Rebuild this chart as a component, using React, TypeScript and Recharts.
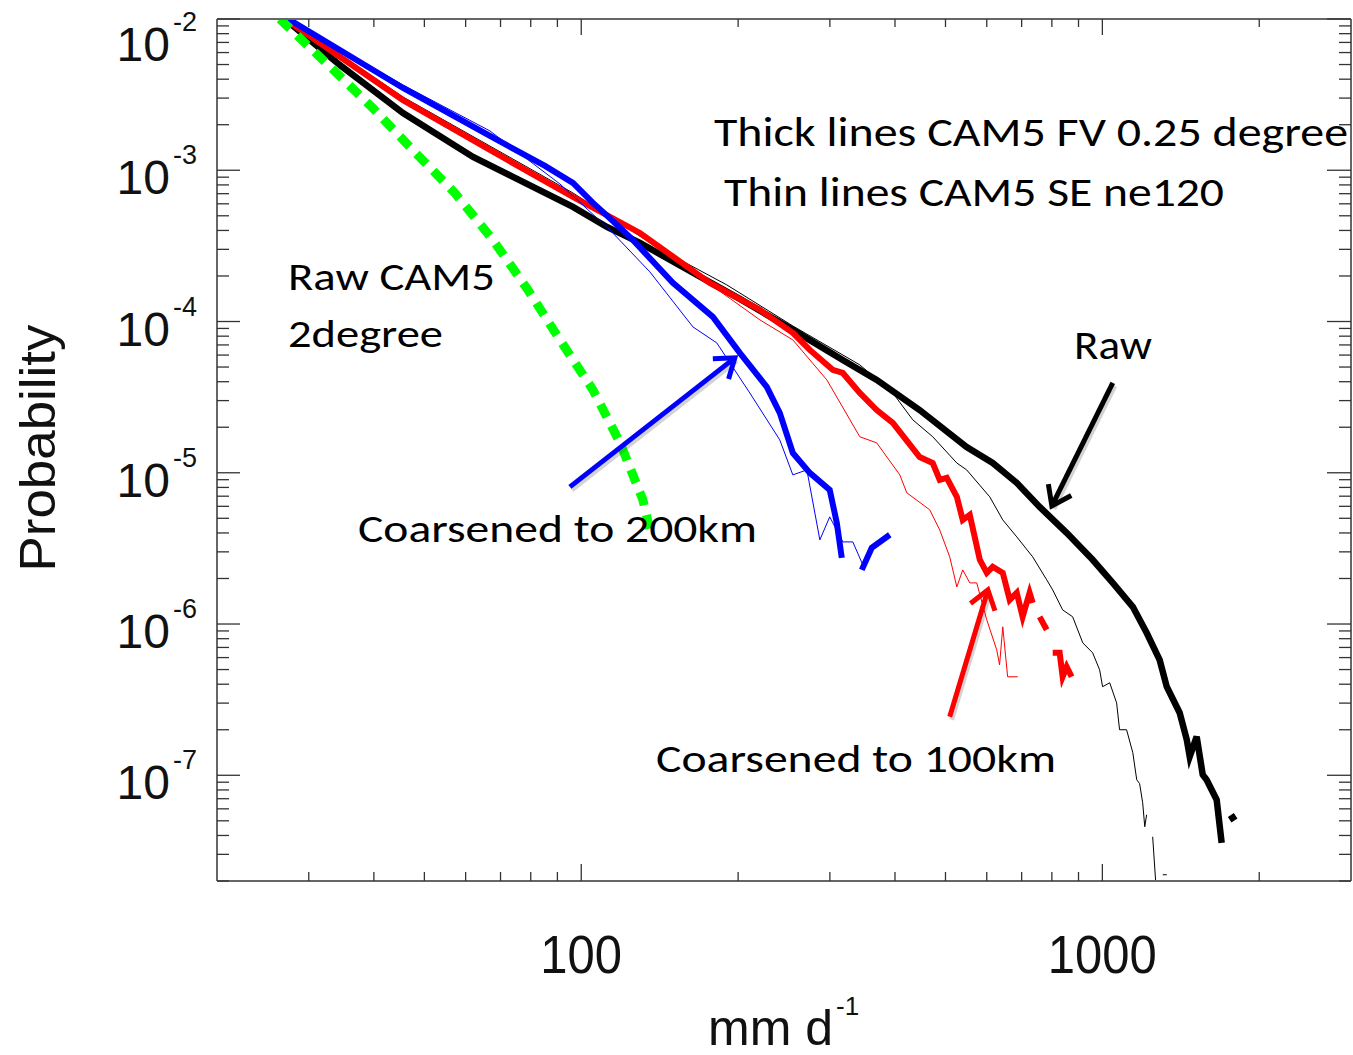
import React from 'react';
import { ComposedChart, Line, XAxis, YAxis, ReferenceLine } from 'recharts';

// ---------- data (x in mm/d, y = probability) ----------
const blackThickX = [27.0, 34.4, 45.5, 62.0, 77.3, 96.4, 112, 129.6, 163.8, 201.5, 254.7, 317.6, 369, 446, 549, 616, 685, 758, 854, 958, 1047, 1144, 1216, 1288, 1329, 1407, 1452, 1471, 1517, 1558, 1585, 1657, 1694, 1725, 1755, 1802];
const blackThickY = [1.0e-2, 4.97e-3, 2.39e-3, 1.224e-3, 8.37e-4, 5.72e-4, 4.22e-4, 3.31e-4, 2.10e-4, 1.41e-4, 8.80e-5, 5.57e-5, 4.11e-5, 2.60e-5, 1.48e-5, 1.16e-5, 8.58e-6, 5.95e-6, 4.01e-6, 2.66e-6, 1.87e-6, 1.30e-6, 8.75e-7, 5.80e-7, 3.85e-7, 2.59e-7, 1.72e-7, 1.33e-7, 1.80e-7, 1.008e-7, 9.34e-8, 6.89e-8, 3.58e-8, null, 5.08e-8, 5.40e-8];

const blackThinX = [27.2, 45.5, 96.4, 141.5, 190.3, 254.7, 342.4, 396.2, 432.6, 472.6, 525.7, 549, 608, 644, 685, 735, 782, 803, 839, 877, 917, 958, 988, 1001, 1033, 1065, 1079, 1113, 1144, 1164, 1179, 1195, 1206, 1216, 1232, 1249, 1266, 1290, 1306, 1329];
const blackThinY = [1.0e-2, 3.05e-3, 7.08e-4, 3.02e-4, 1.745e-4, 9.35e-5, 5.17e-5, 3.37e-5, 2.24e-5, 1.73e-5, 1.16e-5, 1.045e-5, 6.93e-6, 4.88e-6, 3.77e-6, 2.78e-6, 1.96e-6, 1.68e-6, 1.24e-6, 1.116e-6, 7.51e-7, 6.45e-7, 4.98e-7, 3.85e-7, 4.09e-7, 3.01e-7, 2.0e-7, 2.0e-7, 1.41e-7, 9.34e-8, 8.8e-8, 6.58e-8, 4.57e-8, 5.48e-8, null, 3.92e-8, 1.95e-8, null, 2.2e-8, 2.2e-8];

const redThickX = [27.0, 45.5, 66.8, 96.4, 129.6, 176.5, 220.2, 254.7, 274.5, 303.8, 317.6, 342.4, 369, 396.2, 446, 472.6, 487.4, 502.8, 525.7, 539.6, 556.6, 581.8, 600, 616, 644, 664, 685, 703, 725, 735, 746, 758, 782, 792, 803, 828, 839, 854, 873];
const redThickY = [1.0e-2, 2.91e-3, 1.362e-3, 6.66e-4, 3.85e-4, 1.80e-4, 1.193e-4, 8.41e-5, 6.49e-5, 4.79e-5, 4.57e-5, 3.37e-5, 2.60e-5, 2.14e-5, 1.27e-5, 1.16e-5, 8.98e-6, 9.25e-6, 6.93e-6, 4.88e-6, 5.27e-6, 2.66e-6, 2.18e-6, 2.39e-6, 2.18e-6, 1.445e-6, 1.61e-6, 1.116e-6, 1.61e-6, 1.38e-6, null, 1.116e-6, 9.16e-7, null, 6.45e-7, 6.45e-7, 4.48e-7, 5.21e-7, 4.48e-7];

const redThinX = [27.0, 45.5, 96.4, 129.6, 168.9, 220.2, 254.7, 296, 342.4, 369, 408.6, 421.4, 466.4, 487.4, 509.4, 525.7, 539.6, 556.6, 574, 600, 627, 635, 644, 658, 688];
const redThinY = [1.0e-2, 3.0e-3, 6.87e-4, 3.91e-4, 1.97e-4, 1.025e-4, 7.56e-5, 4.11e-5, 1.73e-5, 1.576e-5, 9.68e-6, 7.37e-6, 5.69e-6, 4.19e-6, 2.78e-6, 1.76e-6, 2.28e-6, 1.87e-6, 1.87e-6, 1.066e-6, 6.75e-7, 5.37e-7, 9.58e-7, 4.48e-7, 4.48e-7];

const blueThickX = [27.4, 45.5, 66.8, 85.2, 96.4, 105.3, 115, 125.6, 149.9, 178.9, 201.5, 227.0, 240.4, 254.7, 274.5, 299.8, 309.3, 316.2, 330, 345.4, 361, 390.9];
const blueThickY = [1.0e-2, 3.50e-3, 1.685e-3, 1.068e-3, 8.24e-4, 6.08e-4, 4.62e-4, 3.46e-4, 1.80e-4, 1.073e-4, 6.20e-5, 3.70e-5, 2.49e-5, 1.353e-5, 9.98e-6, 7.71e-6, 4.67e-6, 2.74e-6, null, 2.28e-6, 3.19e-6, 3.89e-6];

const blueThinX = [27.4, 45.5, 66.8, 91.0, 113.5, 135.4, 163.8, 182, 210.6, 240.4, 254.7, 271, 287, 299.8, 317.6, 332, 347];
const blueThinY = [1.0e-2, 3.66e-3, 1.82e-3, 8.12e-4, 4.03e-4, 2.13e-4, 9.21e-5, 7.22e-5, 3.37e-5, 1.65e-5, 9.68e-6, 1.045e-5, 3.60e-6, 5.11e-6, 3.49e-6, 3.49e-6, 2.46e-6];

const greenX = [26.4, 32.7, 39.8, 47.5, 57.2, 67.7, 79.0, 91.0, 105.3, 118.7, 131.3, 135.4];
const greenY = [1.0e-2, 4.97e-3, 2.58e-3, 1.362e-3, 7.08e-4, 3.46e-4, 1.62e-4, 7.56e-5, 3.53e-5, 1.576e-5, 6.62e-6, 4.19e-6];

// arrows: [tailX, tailY, headX, headY]
const blueArrow = [95.1, 8.07e-6, 197.1, 5.75e-5];
const blackArrow = [1047, 3.93e-5, 800, 6.04e-6];
const redArrow = [509.4, 2.44e-7, 603, 1.68e-6];

// axes
const xDomain = [20, 3000];
const yDomain = [2e-8, 1e-2];
const xTicks = [30, 40, 50, 60, 70, 80, 90, 100, 200, 300, 400, 500, 600, 700, 800, 900, 1000, 2000];
const xMajorTicks = [100, 1000];
const yDecades = [-8, -7, -6, -5, -4, -3, -2];
const yMultipliers = [1, 2, 3, 4, 5, 6, 7, 8, 9];

const yTicks: number[] = [];
yDecades.forEach((d) => {
  yMultipliers.forEach((m) => {
    const v = Number((m * Math.pow(10, d)).toPrecision(6));
    if (v >= yDomain[0] * 0.999 && v <= yDomain[1] * 1.001) yTicks.push(v);
  });
});

const toData = (xs: number[], ys: (number | null)[]) => xs.map((x, i) => ({ x, y: ys[i] }));

const isDecade = (v: number) => Math.abs(Math.log10(v) - Math.round(Math.log10(v))) < 1e-6;

const TICK_COLOR = '#333';
const AXIS_FONT = '"Liberation Sans", Arial, Helvetica, sans-serif';
const NOTE_FONT = 'Carlito, Lato, "Open Sans", sans-serif';

const XTickBottom = (props: any) => {
  const { x, y, payload } = props;
  const v = payload.value;
  const major = xMajorTicks.includes(v);
  return (
    <g>
      <line x1={x} y1={y} x2={x} y2={y - (major ? 17 : 9)} stroke={TICK_COLOR} strokeWidth={1.3} />
      {major && (
        <text transform={`translate(${x},${y + 92}) scale(1,1.1)`} textAnchor="middle" fontFamily={AXIS_FONT} fontSize={49} fill="#111">
          {v}
        </text>
      )}
    </g>
  );
};

const XTickTop = (props: any) => {
  const { x, y, payload } = props;
  const major = xMajorTicks.includes(payload.value);
  return <line x1={x} y1={y} x2={x} y2={y + (major ? 16 : 8)} stroke={TICK_COLOR} strokeWidth={1.3} />;
};

const YTickLeft = (props: any) => {
  const { x, y, payload, index } = props;
  const v = payload.value;
  const major = isDecade(v);
  const exp = Math.round(Math.log10(v));
  const shift = index === yTicks.length - 1 ? 18 : 0;
  return (
    <g>
      <line x1={x} y1={y} x2={x + (major ? 23 : 12)} y2={y} stroke={TICK_COLOR} strokeWidth={1.3} />
      {major && exp > -8 && (
        <text x={x - 20} y={y + 24 + shift} textAnchor="end" fontFamily={AXIS_FONT} fontSize={48} fill="#111">
          10
          <tspan dx={3} dy={-30} fontSize={27}>{exp}</tspan>
        </text>
      )}
    </g>
  );
};

const YTickRight = (props: any) => {
  const { x, y, payload } = props;
  const major = isDecade(payload.value);
  return <line x1={x} y1={y} x2={x - (major ? 24 : 12)} y2={y} stroke={TICK_COLOR} strokeWidth={1.3} />;
};

const arrowShape = (color: string) => (props: any) => {
  const { x1, y1, x2, y2 } = props;
  const ang = Math.atan2(y2 - y1, x2 - x1);
  const L = 22;
  const a = 0.62;
  const wx1 = x2 - L * Math.cos(ang - a);
  const wy1 = y2 - L * Math.sin(ang - a);
  const wx2 = x2 - L * Math.cos(ang + a);
  const wy2 = y2 - L * Math.sin(ang + a);
  return (
    <g>
      <g opacity={0.25} transform="translate(2,3)">
        <line x1={x1} y1={y1} x2={x2} y2={y2} stroke="#555" strokeWidth={5} />
      </g>
      <line x1={x1} y1={y1} x2={x2} y2={y2} stroke={color} strokeWidth={5} />
      <polyline points={`${wx1},${wy1} ${x2},${y2} ${wx2},${wy2}`} fill="none" stroke={color} strokeWidth={5} strokeLinejoin="miter" />
    </g>
  );
};

const notes = [
  { text: 'Thick lines CAM5 FV 0.25 degree', x: 714, y: 146, len: 634, size: 42 },
  { text: 'Thin lines CAM5 SE ne120', x: 724, y: 206, len: 500, size: 42 },
  { text: 'Raw CAM5', x: 288, y: 290, len: 207, size: 38 },
  { text: '2degree', x: 288, y: 347, len: 155, size: 38 },
  { text: 'Raw', x: 1074, y: 359, len: 78, size: 40 },
  { text: 'Coarsened to 200km', x: 358, y: 542, len: 399, size: 38 },
  { text: 'Coarsened to 100km', x: 656, y: 772, len: 400, size: 38 },
];

const series = [
  { key: 'blackThick', data: toData(blackThickX, blackThickY), color: '#000000', width: 6.5 },
  { key: 'blackThin', data: toData(blackThinX, blackThinY), color: '#000000', width: 1 },
  { key: 'redThick', data: toData(redThickX, redThickY), color: '#ff0000', width: 6 },
  { key: 'redThin', data: toData(redThinX, redThinY), color: '#ff0000', width: 1 },
  { key: 'blueThick', data: toData(blueThickX, blueThickY), color: '#0000ff', width: 6 },
  { key: 'blueThin', data: toData(blueThinX, blueThinY), color: '#0000ff', width: 1 },
];

export default function App() {
  const arrows = [
    { a: blueArrow, color: '#0000ff' },
    { a: blackArrow, color: '#000000' },
    { a: redArrow, color: '#ff0000' },
  ];
  return (
    <div style={{ position: 'absolute', left: 0, top: 0, width: 1353, height: 1055, background: '#fff' }}>
      <ComposedChart width={1353} height={1055} margin={{ top: 10, right: 0, bottom: 114, left: 157 }}>
        <XAxis xAxisId="bottom" dataKey="x" type="number" scale="log" domain={xDomain} allowDataOverflow ticks={xTicks} interval={0} tick={XTickBottom} tickLine={false} tickSize={0} tickMargin={0} height={60} axisLine={{ stroke: '#666', strokeWidth: 2 }} />
        <XAxis xAxisId="top" orientation="top" dataKey="x" type="number" scale="log" domain={xDomain} allowDataOverflow ticks={xTicks} interval={0} tick={XTickTop} tickLine={false} tickSize={0} tickMargin={0} height={9} axisLine={{ stroke: '#666', strokeWidth: 2 }} />
        <YAxis yAxisId="left" type="number" scale="log" domain={yDomain} allowDataOverflow ticks={yTicks} interval={0} tick={YTickLeft} tickLine={false} tickSize={0} tickMargin={0} width={60} axisLine={{ stroke: '#666', strokeWidth: 2 }} />
        <YAxis yAxisId="right" orientation="right" type="number" scale="log" domain={yDomain} allowDataOverflow ticks={yTicks} interval={0} tick={YTickRight} tickLine={false} tickSize={0} tickMargin={0} width={2} axisLine={{ stroke: '#666', strokeWidth: 2 }} />
        {series.map((s) => (
          <Line key={s.key} xAxisId="bottom" yAxisId="left" data={s.data} dataKey="y" type="linear" stroke={s.color} strokeWidth={s.width} dot={false} activeDot={false} connectNulls={false} isAnimationActive={false} />
        ))}
        <Line xAxisId="bottom" yAxisId="left" data={toData(greenX, greenY)} dataKey="y" type="linear" stroke="#00ff00" strokeWidth={9} strokeDasharray="14 10" dot={false} activeDot={false} isAnimationActive={false} />
        {arrows.map((ar, i) => (
          <ReferenceLine key={i} xAxisId="bottom" yAxisId="left" segment={[{ x: ar.a[0], y: ar.a[1] }, { x: ar.a[2], y: ar.a[3] }]} shape={arrowShape(ar.color)} />
        ))}
      </ComposedChart>
      <svg width={1353} height={1055} style={{ position: 'absolute', left: 0, top: 0, pointerEvents: 'none' }}>
        {notes.map((n) => (
          <text key={n.text} x={n.x} y={n.y} fontFamily={NOTE_FONT} fontSize={n.size} fill="#000" textLength={n.len} lengthAdjust="spacingAndGlyphs">
            {n.text}
          </text>
        ))}
        <text transform="translate(55,448) rotate(-90)" textAnchor="middle" fontFamily={AXIS_FONT} fontSize={50} fill="#111" textLength={247} lengthAdjust="spacingAndGlyphs">
          Probability
        </text>
        <text x={708} y={1045} fontFamily={AXIS_FONT} fontSize={50} fill="#111">
          mm d
          <tspan dx={3} dy={-30} fontSize={26}>-1</tspan>
        </text>
      </svg>
    </div>
  );
}
